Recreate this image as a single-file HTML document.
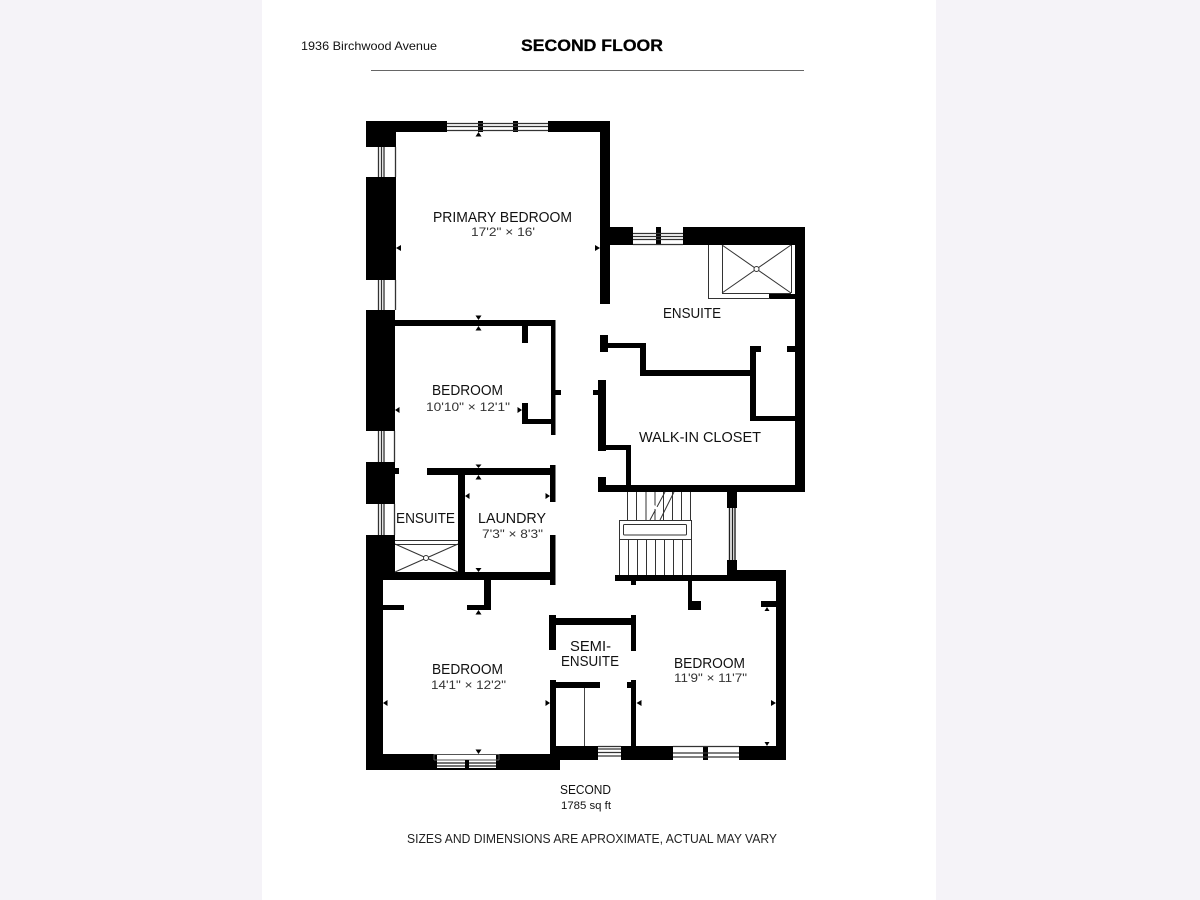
<!DOCTYPE html>
<html><head><meta charset="utf-8"><style>
html,body{margin:0;padding:0;background:#f5f3f8}
svg{display:block;filter:blur(0.3px)}
text{font-family:"Liberation Sans",sans-serif;fill:#111}
.m{font-size:15px}.s{font-size:12px;fill:#333}
</style></head><body>
<svg width="1200" height="900" viewBox="0 0 1200 900" xmlns="http://www.w3.org/2000/svg">
<rect width="1200" height="900" fill="#f5f3f8"/>
<rect x="262" width="674" height="900" fill="#fff"/>
<text x="301" y="50" font-size="12" textLength="136" lengthAdjust="spacingAndGlyphs" fill="#222">1936 Birchwood Avenue</text>
<text x="521" y="51" font-size="17" font-weight="700" textLength="142" lengthAdjust="spacingAndGlyphs" style="fill:#000;stroke:#000;stroke-width:.3">SECOND FLOOR</text>
<rect x="371" y="70" width="433" height="1" fill="#666"/>

<g fill="#000">
<!-- primary -->
<rect x="366" y="121" width="81" height="11"/><rect x="548" y="121" width="62" height="11"/>
<rect x="366" y="121" width="30" height="26"/>
<rect x="478" y="121" width="5" height="11"/><rect x="513" y="121" width="5" height="11"/>
<rect x="600" y="121" width="10" height="183"/>
<rect x="366" y="177" width="30" height="103"/>
<rect x="366" y="310" width="29" height="121"/>
<rect x="366" y="462" width="29" height="42"/>
<rect x="366" y="535" width="29" height="40"/>
<rect x="366" y="535" width="17" height="235"/>
<!-- bedroom 2 -->
<rect x="395" y="320" width="160.500" height="6"/>
<rect x="551" y="320" width="4.500" height="115"/>
<rect x="555" y="390" width="6" height="5"/>
<rect x="522" y="325" width="6" height="18"/>
<rect x="522" y="403" width="6" height="21"/>
<rect x="522" y="419" width="30" height="5"/>
<!-- laundry -->
<rect x="427" y="468" width="128" height="7"/>
<rect x="550" y="465" width="5.500" height="37"/>
<rect x="395" y="468" width="4" height="6"/>
<rect x="458" y="475" width="7" height="100"/>
<rect x="383" y="572" width="172" height="8"/>
<rect x="550" y="535" width="5.500" height="50"/>
<!-- bedroom 3 -->
<rect x="484" y="580" width="7" height="30"/>
<rect x="467" y="605" width="24" height="5"/>
<rect x="383" y="605" width="21" height="5"/>
<rect x="366" y="754" width="71" height="16"/>
<rect x="496" y="754" width="64" height="16"/>
<rect x="437" y="768" width="59" height="2"/>
<rect x="550" y="680" width="6" height="74"/>
<!-- ensuite top -->
<rect x="600" y="227" width="33" height="18"/>
<rect x="683" y="227" width="122" height="18"/>
<rect x="656" y="227" width="5" height="18"/>
<rect x="795" y="227" width="10" height="265"/>
<rect x="769" y="294" width="26" height="5"/>
<!-- walls -->
<rect x="600" y="335" width="8" height="17"/>
<rect x="608" y="343" width="38" height="5"/>
<rect x="640" y="343" width="6" height="33"/>
<rect x="640" y="370" width="110" height="6"/>
<rect x="750" y="346" width="6" height="75"/>
<rect x="750" y="346" width="11" height="6"/>
<rect x="787" y="346" width="8" height="6"/>
<rect x="750" y="416" width="45" height="5"/>
<rect x="598" y="380" width="8" height="71"/>
<rect x="593" y="390" width="5" height="5"/>
<rect x="606" y="445" width="25" height="5"/>
<rect x="626" y="445" width="5" height="41"/>
<rect x="598" y="477" width="8" height="15"/>
<rect x="598" y="485" width="207" height="7"/>
<rect x="727" y="492" width="10" height="16"/>
<rect x="727" y="560" width="10" height="12"/>
<rect x="615" y="575" width="122" height="6"/>
<rect x="727" y="570" width="59" height="11"/>
<rect x="776" y="570" width="10" height="190"/>
<rect x="631" y="581" width="5" height="4"/>
<rect x="688" y="581" width="4" height="29"/>
<rect x="688" y="601" width="13" height="9"/>
<rect x="761" y="601" width="15" height="6"/>
<!-- semi -->
<rect x="549" y="615" width="7" height="35"/>
<rect x="549" y="618" width="87" height="7"/>
<rect x="631" y="615" width="5" height="36"/>
<rect x="550" y="682" width="50" height="6"/>
<rect x="631" y="680" width="5" height="70"/>
<rect x="627" y="682" width="5" height="6"/>
<rect x="550" y="746" width="48" height="14"/>
<rect x="621" y="746" width="52" height="14"/>
<rect x="739" y="746" width="47" height="14"/>
<rect x="703" y="746" width="5" height="14"/>
</g>

<g stroke="#333" stroke-width="1" fill="none">
<!-- top window -->
<path d="M447 123.500H548M447 126.500H548M447 130.500H548" stroke="#333" stroke-width="1.300"/>
<path d="M378.500 147V177M381.500 147V177M384 147V177M395.500 147V177" stroke="#333" stroke-width="1.300"/>
<path d="M378.500 280V310M381.500 280V310M384 280V310M395.500 280V310" stroke="#333" stroke-width="1.300"/>
<path d="M378.500 431V462M381.500 431V462M384 431V462M394.500 431V462" stroke="#333" stroke-width="1.300"/>
<path d="M378.500 504V535M381.500 504V535M384 504V535M394.500 504V535" stroke="#333" stroke-width="1.300"/>
<path d="M633 233.500H683M633 236.500H683M633 239.500H683M633 244.500H683" stroke="#333" stroke-width="1.300"/>
<!-- ensuite shower -->
<path d="M708.500 245V298.500H770M722.500 245V293M722 293.500H791M791.500 245V293"/>
<path d="M722 245L791 293M791 245L722 293"/>
<circle cx="756.500" cy="269" r="2.500" fill="#fff"/>
<!-- lower shower -->
<path d="M395 540.500H458M395 544.500H458"/>
<path d="M395 544L458 572M458 544L395 572"/>
<circle cx="426" cy="558" r="2.500" fill="#fff"/>
<!-- stairs -->
<path d="M627.500 492V520M636.500 492V520M646 492V520M655 492V520M663.500 492V520M672.500 492V520M681.500 492V520M690.500 492V520"/>
<rect x="619.500" y="520.500" width="72" height="19"/>
<rect x="623.500" y="524.500" width="63" height="10.500" rx="1"/>
<path d="M619.500 539V575M628.500 539V575M637.500 539V575M646.500 539V575M655.500 539V575M664.500 539V575M673.500 539V575M682.500 539V575M691.500 539V575"/>
<path d="M650 520L665 492M660 520L674 492"/>
<path d="M653 506L662 512" stroke="#fff" stroke-width="3"/>
<!-- east window -->
<path d="M729.500 508V560M732.500 508V560M735 508V560" stroke="#222" stroke-width="1.400"/>
<!-- bottom windows -->
<path d="M434 754.500H499M434 754V760M499 754V760M434 760H499" stroke="#555"/>
<path d="M437 763H496M437 766H496" stroke="#222" stroke-width="1.300"/>
<path d="M598 749H621M598 752.500H621M598 756H621" stroke="#333" stroke-width="1.300"/>
<path d="M673 746.500H739M673 753H739M673 757H739M598 746.500H621" stroke="#333" stroke-width="1.300"/>
<path d="M584.500 688V746" stroke="#444"/>
</g>
<rect x="465" y="760" width="4" height="10" fill="#000"/>

<!-- markers -->
<g fill="#000">
<path d="M478.500 132l-3 4.500h6zM478.500 320l-3-4.500h6zM478.500 326l-3 4.500h6z"/>
<path d="M396 248l5-3v6zM600 248l-5-3v6z"/>
<path d="M395 410l4.500-3v6zM522 410l-4.500-3v6z"/>
<path d="M478.500 468l-3-3.500h6zM478.500 475l-3 4.500h6zM478.500 572l-3-4h6z"/>
<path d="M465 496l4.500-3v6zM550 496l-4.500-3v6z"/>
<path d="M478.500 610l-3 4.500h6zM478.500 754l-3-4.500h6z"/>
<path d="M383 703l4.500-3v6zM550 703l-4.500-3v6z"/>
<path d="M636.500 703l5-3v6zM776 703l-5-3v6z"/>
<path d="M767 607l-2.500 4h5zM767 746l-2.500-4h5z"/>
</g>

<!-- labels -->
<text class="m" x="433" y="222" textLength="139" lengthAdjust="spacingAndGlyphs">PRIMARY BEDROOM</text>
<text class="s" x="471" y="236" textLength="64" lengthAdjust="spacingAndGlyphs">17'2" × 16'</text>
<text class="m" x="663" y="318" textLength="58" lengthAdjust="spacingAndGlyphs">ENSUITE</text>
<text class="m" x="639" y="442" textLength="122" lengthAdjust="spacingAndGlyphs">WALK-IN CLOSET</text>
<text class="m" x="432" y="395" textLength="71" lengthAdjust="spacingAndGlyphs">BEDROOM</text>
<text class="s" x="426" y="411" textLength="84" lengthAdjust="spacingAndGlyphs">10'10" × 12'1"</text>
<text class="m" x="396" y="523" textLength="59" lengthAdjust="spacingAndGlyphs">ENSUITE</text>
<text class="m" x="478" y="523" textLength="68" lengthAdjust="spacingAndGlyphs">LAUNDRY</text>
<text class="s" x="482" y="538" textLength="61" lengthAdjust="spacingAndGlyphs">7'3" × 8'3"</text>
<text class="m" x="432" y="674" textLength="71" lengthAdjust="spacingAndGlyphs">BEDROOM</text>
<text class="s" x="431" y="689" textLength="75" lengthAdjust="spacingAndGlyphs">14'1" × 12'2"</text>
<text class="m" x="570" y="651" textLength="41" lengthAdjust="spacingAndGlyphs">SEMI-</text>
<text class="m" x="561" y="666" textLength="58" lengthAdjust="spacingAndGlyphs">ENSUITE</text>
<text class="m" x="674" y="668" textLength="71" lengthAdjust="spacingAndGlyphs">BEDROOM</text>
<text class="s" x="674" y="682" textLength="73" lengthAdjust="spacingAndGlyphs">11'9" × 11'7"</text>
<text x="560" y="794" font-size="13" textLength="51" lengthAdjust="spacingAndGlyphs">SECOND</text>
<text x="561" y="809" font-size="11" textLength="50" lengthAdjust="spacingAndGlyphs">1785 sq ft</text>
<text x="407" y="843" font-size="13" textLength="370" lengthAdjust="spacingAndGlyphs" style="fill:#222">SIZES AND DIMENSIONS ARE APROXIMATE, ACTUAL MAY VARY</text>
</svg>
</body></html>
